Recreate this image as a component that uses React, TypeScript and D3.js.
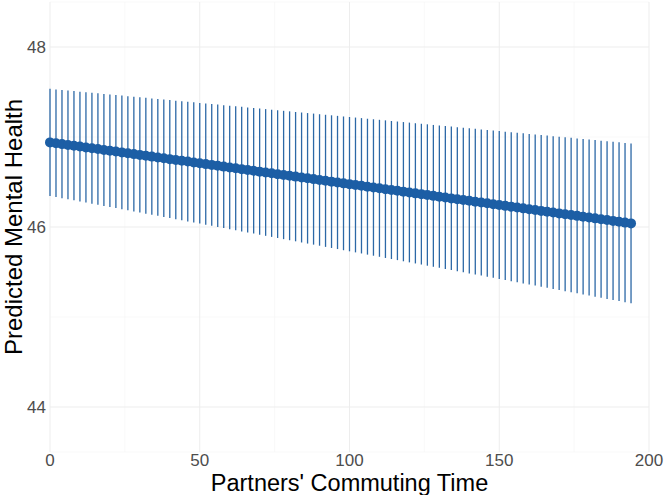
import React from "react";
import * as d3 from "d3";

const commute = [0,2,4,6,8,10,12,14,16,18,20,22,24,26,28,30,32,34,36,38,40,42,44,46,48,50,52,54,56,58,60,62,64,66,68,70,72,74,76,78,80,82,84,86,88,90,92,94,96,98,100,102,104,106,108,110,112,114,116,118,120,122,124,126,128,130,132,134,136,138,140,142,144,146,148,150,152,154,156,158,160,162,164,166,168,170,172,174,176,178,180,182,184,186,188,190,192,194];

const predicted = [46.940,46.931,46.921,46.912,46.903,46.894,46.884,46.875,46.866,46.856,46.847,46.838,46.829,46.819,46.810,46.801,46.792,46.782,46.773,46.764,46.754,46.745,46.736,46.727,46.717,46.708,46.699,46.690,46.680,46.671,46.662,46.652,46.643,46.634,46.625,46.615,46.606,46.597,46.587,46.578,46.569,46.560,46.550,46.541,46.532,46.523,46.513,46.504,46.495,46.485,46.476,46.467,46.458,46.448,46.439,46.430,46.420,46.411,46.402,46.393,46.383,46.374,46.365,46.355,46.346,46.337,46.328,46.318,46.309,46.300,46.291,46.281,46.272,46.263,46.253,46.244,46.235,46.226,46.216,46.207,46.198,46.188,46.179,46.170,46.161,46.151,46.142,46.133,46.124,46.114,46.105,46.096,46.086,46.077,46.068,46.059,46.049,46.040];

const lower = [46.345,46.333,46.320,46.308,46.296,46.284,46.271,46.259,46.247,46.234,46.222,46.210,46.197,46.185,46.173,46.161,46.148,46.136,46.124,46.111,46.099,46.087,46.074,46.062,46.050,46.038,46.025,46.013,46.001,45.988,45.976,45.964,45.951,45.939,45.927,45.915,45.902,45.890,45.878,45.865,45.853,45.841,45.828,45.816,45.804,45.792,45.779,45.767,45.755,45.742,45.730,45.718,45.706,45.693,45.681,45.669,45.656,45.644,45.632,45.619,45.607,45.595,45.583,45.570,45.558,45.546,45.533,45.521,45.509,45.496,45.484,45.472,45.460,45.447,45.435,45.423,45.410,45.398,45.386,45.373,45.361,45.349,45.337,45.324,45.312,45.300,45.287,45.275,45.263,45.250,45.238,45.226,45.214,45.201,45.189,45.177,45.164,45.152];

const upper = [47.535,47.529,47.522,47.516,47.510,47.504,47.497,47.491,47.485,47.479,47.472,47.466,47.460,47.454,47.447,47.441,47.435,47.429,47.422,47.416,47.410,47.404,47.397,47.391,47.385,47.379,47.372,47.366,47.360,47.354,47.347,47.341,47.335,47.329,47.322,47.316,47.310,47.303,47.297,47.291,47.285,47.278,47.272,47.266,47.260,47.253,47.247,47.241,47.235,47.228,47.222,47.216,47.210,47.203,47.197,47.191,47.185,47.178,47.172,47.166,47.160,47.153,47.147,47.141,47.134,47.128,47.122,47.116,47.109,47.103,47.097,47.091,47.084,47.078,47.072,47.066,47.059,47.053,47.047,47.041,47.034,47.028,47.022,47.016,47.009,47.003,46.997,46.991,46.984,46.978,46.972,46.966,46.959,46.953,46.947,46.941,46.934,46.928];

const xTicks = [0, 50, 100, 150, 200];
const xMinor = [25, 75, 125, 175];
const yTicks = [44, 46, 48];
const yMinor = [43.5, 45, 47, 48.5];
const xTitle = "Partners' Commuting Time";
const yTitle = "Predicted Mental Health";

export default function App() {
  const W = 664, H = 495;
  const x = d3.scaleLinear().domain([0, 200]).range([50, 649]);
  const y = d3.scaleLinear().domain([43.5, 48.5]).range([452, 2]);
  const blue = "#1c5ea5";
  const font = "'Liberation Sans', Arial, sans-serif";
  return (
    <svg width={W} height={H} style={{ position: "absolute", left: 0, top: 0, background: "#fff" }}>
      <g>
        {xMinor.map((v) => (
          <line key={"xm" + v} x1={x(v)} x2={x(v)} y1={y(48.5)} y2={y(43.5)} stroke="#f5f5f5" strokeWidth={0.6} />
        ))}
        {yMinor.map((v) => (
          <line key={"ym" + v} x1={x(0)} x2={x(200)} y1={y(v)} y2={y(v)} stroke="#f5f5f5" strokeWidth={0.6} />
        ))}
        {xTicks.map((v) => (
          <line key={"xg" + v} x1={x(v)} x2={x(v)} y1={y(48.5)} y2={y(43.5)} stroke="#ededed" strokeWidth={1} />
        ))}
        {yTicks.map((v) => (
          <line key={"yg" + v} x1={x(0)} x2={x(200)} y1={y(v)} y2={y(v)} stroke="#ededed" strokeWidth={1} />
        ))}
      </g>
      <g>
        {commute.map((c, i) => (
          <line key={"e" + i} x1={x(c)} x2={x(c)} y1={y(lower[i])} y2={y(upper[i])} stroke="#2c68a6" strokeWidth={1.3} />
        ))}
      </g>
      <g>
        {commute.map((c, i) => (
          <circle key={"p" + i} cx={x(c)} cy={y(predicted[i])} r={5} fill={blue} />
        ))}
      </g>
      <g fontFamily={font} fontSize={17} fill="#4d4d4d">
        {yTicks.map((v) => (
          <text key={"yt" + v} x={46} y={y(v)} textAnchor="end" dominantBaseline="central">{v}</text>
        ))}
        {xTicks.map((v) => (
          <text key={"xt" + v} x={x(v)} y={466} textAnchor="middle">{v}</text>
        ))}
      </g>
      <text x={(x(0) + x(200)) / 2} y={491} textAnchor="middle" fontFamily={font} fontSize={23.5} fill="#000">{xTitle}</text>
      <text transform={`translate(22,${(y(48.5) + y(43.5)) / 2}) rotate(-90)`} textAnchor="middle" fontFamily={font} fontSize={24} fill="#000">{yTitle}</text>
    </svg>
  );
}
